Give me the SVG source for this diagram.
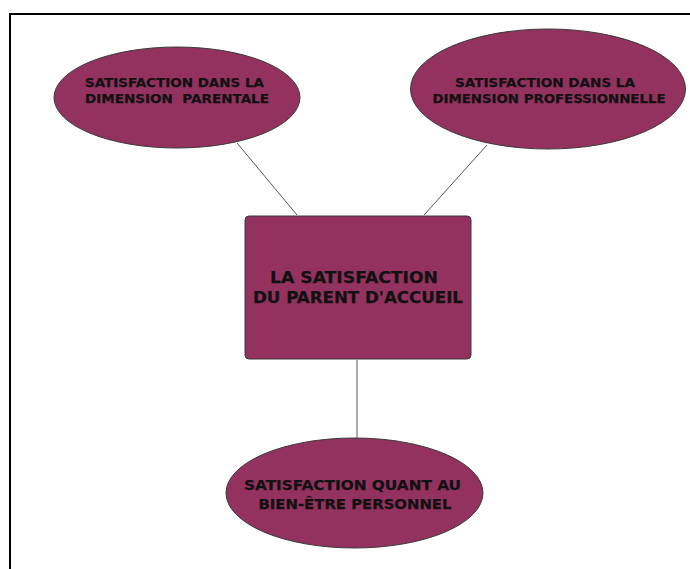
<svg xmlns="http://www.w3.org/2000/svg" width="690" height="569" viewBox="0 0 690 569">
<style>
.node{fill:#94325F;stroke:#3a3a3a;stroke-width:1}
.t{font-family:"DejaVu Sans",Verdana,sans-serif;font-weight:bold;fill:#111;stroke:#111;stroke-width:0.25;text-anchor:middle}
.conn{stroke:#555;stroke-width:1;fill:none}
</style>
<rect x="0" y="0" width="690" height="569" fill="#fff"/>
<path d="M10 569 V14 H690" fill="none" stroke="#000" stroke-width="2"/>
<g id="connectors">
<line class="conn" x1="237" y1="143" x2="297" y2="215"/>
<line class="conn" x1="487" y1="145" x2="424" y2="215"/>
<line class="conn" x1="357" y1="360" x2="357" y2="438"/>
</g>
<g id="node-parentale">
<ellipse class="node" cx="177" cy="97.5" rx="123" ry="50.5"/>
<text class="t" x="174.5" y="87" font-size="12.5" textLength="179" lengthAdjust="spacingAndGlyphs">SATISFACTION DANS LA</text>
<text class="t" x="177" y="103" font-size="12.5" textLength="184" lengthAdjust="spacingAndGlyphs" xml:space="preserve">DIMENSION  PARENTALE</text>
</g>
<g id="node-professionnelle">
<ellipse class="node" cx="548" cy="89" rx="137.5" ry="60"/>
<text class="t" x="545" y="86.7" font-size="12.5" textLength="180" lengthAdjust="spacingAndGlyphs">SATISFACTION DANS LA</text>
<text class="t" x="549" y="102.7" font-size="12.5" textLength="233" lengthAdjust="spacingAndGlyphs">DIMENSION PROFESSIONNELLE</text>
</g>
<g id="node-centre">
<rect class="node" x="245" y="216" width="226" height="143" rx="4"/>
<text class="t" x="354" y="283.3" font-size="15.5" textLength="168" lengthAdjust="spacingAndGlyphs">LA SATISFACTION</text>
<text class="t" x="358" y="302.7" font-size="15.5" textLength="210" lengthAdjust="spacingAndGlyphs">DU PARENT D'ACCUEIL</text>
</g>
<g id="node-bienetre">
<ellipse class="node" cx="354.5" cy="493" rx="128.5" ry="55"/>
<text class="t" x="352.5" y="490" font-size="14" textLength="217" lengthAdjust="spacingAndGlyphs">SATISFACTION QUANT AU</text>
<text class="t" x="355" y="509" font-size="14" textLength="193" lengthAdjust="spacingAndGlyphs">BIEN-ÊTRE PERSONNEL</text>
</g>
</svg>
